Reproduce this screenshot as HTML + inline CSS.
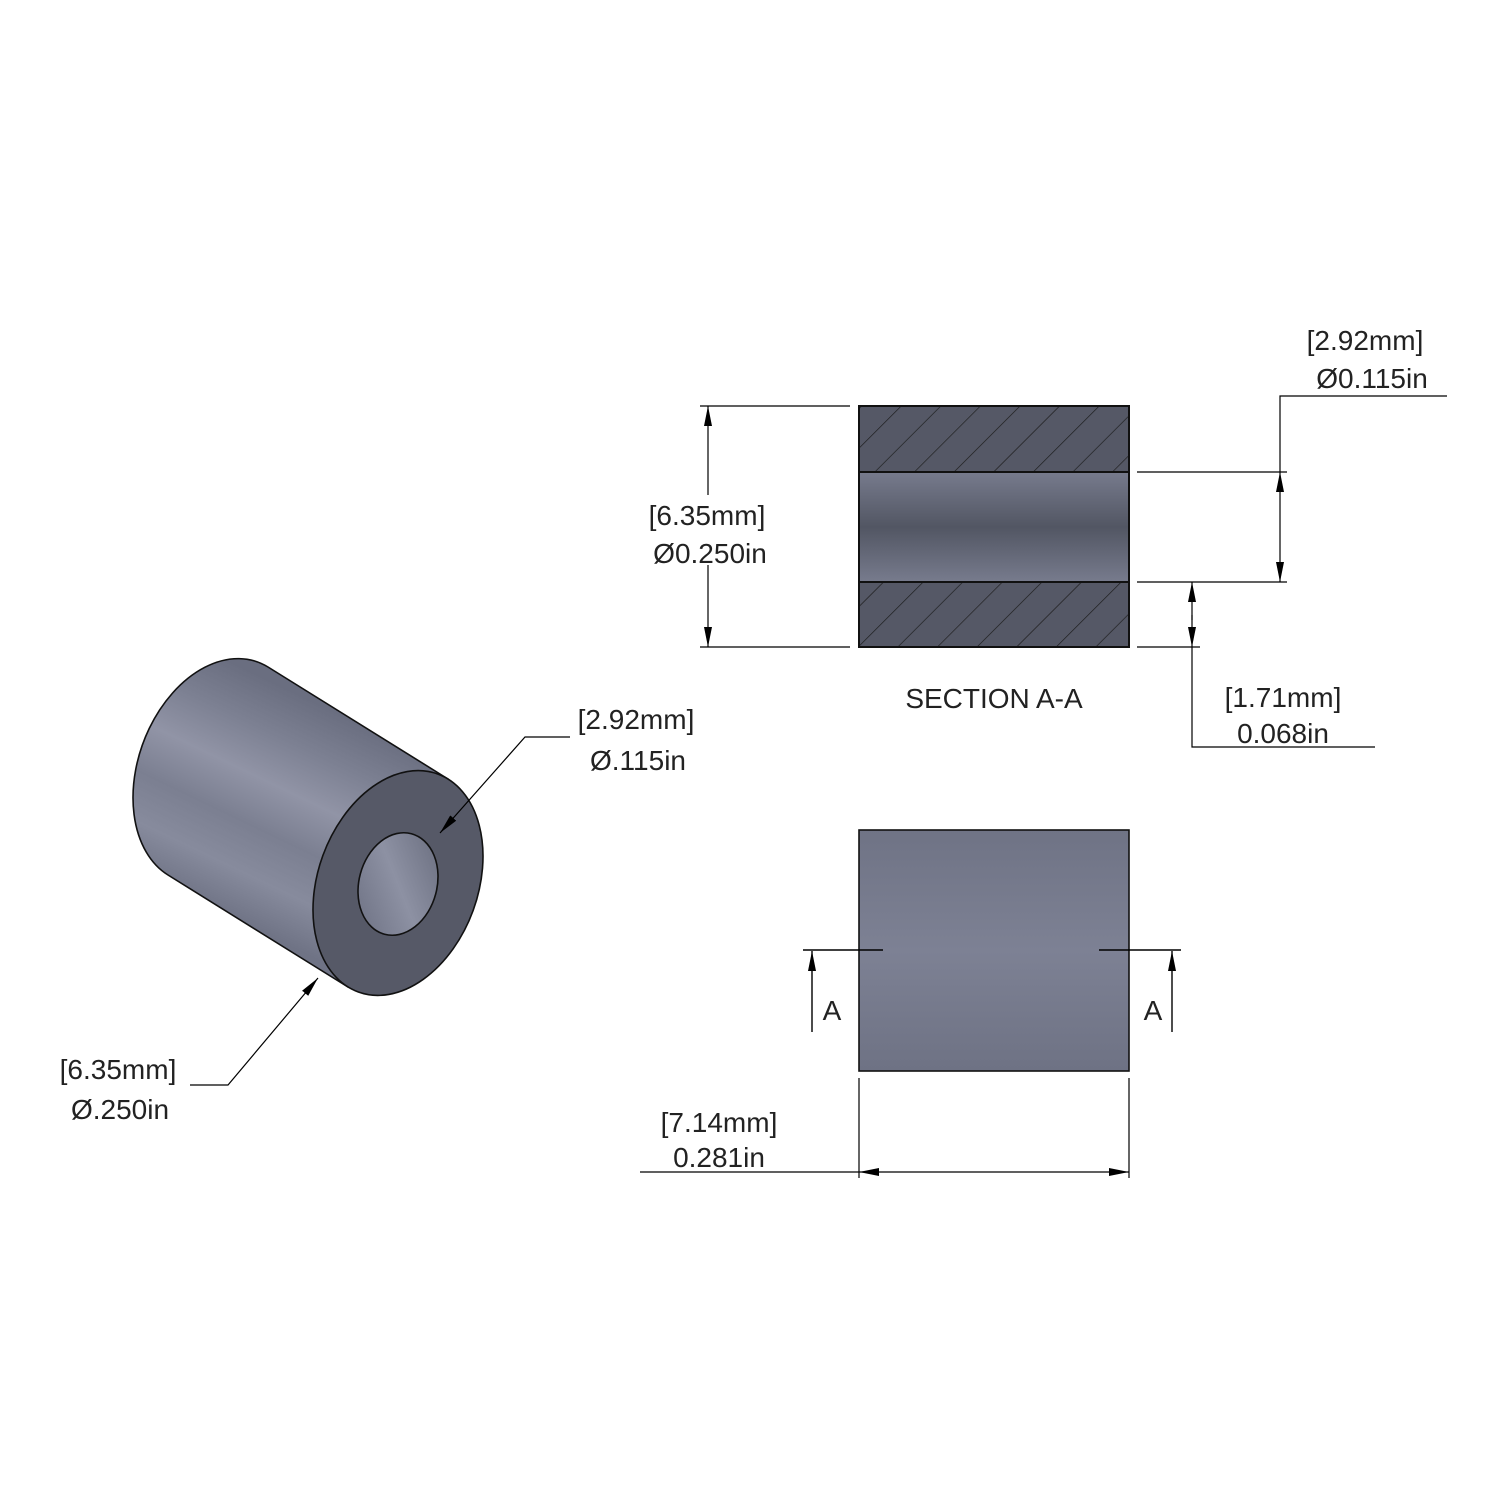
<!DOCTYPE html>
<html><head><style>
html,body{margin:0;padding:0;background:#fff}
svg{display:block}
text{font-family:"Liberation Sans",sans-serif;font-size:28px;fill:#222}
</style></head><body>
<svg width="1500" height="1500" viewBox="0 0 1500 1500">
<defs>
<linearGradient id="body" x1="258" y1="931" x2="358" y2="723" gradientUnits="userSpaceOnUse">
<stop offset="0" stop-color="#6f7385"/><stop offset="0.2" stop-color="#878b9d"/><stop offset="0.4" stop-color="#7b7f91"/><stop offset="0.6" stop-color="#9194a6"/><stop offset="0.8" stop-color="#7c8092"/><stop offset="1" stop-color="#6a6e80"/>
</linearGradient>
<linearGradient id="bore" x1="0" y1="0" x2="0" y2="1">
<stop offset="0" stop-color="#777b8d"/><stop offset="0.5" stop-color="#525663"/><stop offset="1" stop-color="#777b8d"/>
</linearGradient>
<linearGradient id="hole" x1="0" y1="1" x2="1" y2="0">
<stop offset="0" stop-color="#6a6e80"/><stop offset="0.5" stop-color="#8d91a3"/><stop offset="1" stop-color="#676b7c"/>
</linearGradient>
<linearGradient id="side" x1="0" y1="0" x2="0" y2="1">
<stop offset="0" stop-color="#6f7385"/><stop offset="0.5" stop-color="#7d8194"/><stop offset="1" stop-color="#6e7284"/>
</linearGradient>
<pattern id="hatch" patternUnits="userSpaceOnUse" width="28" height="28" patternTransform="rotate(45)">
<rect width="28" height="28" fill="#555866"/>
<line x1="0" y1="0" x2="0" y2="28" stroke="#1a1a1a" stroke-width="1.3"/>
</pattern>
<marker id="arl" viewBox="0 0 20 8" refX="20" refY="4" markerWidth="20" markerHeight="8" markerUnits="userSpaceOnUse" orient="auto"><path d="M0 0 L20 4 L0 8 Z" fill="#000"/></marker>
</defs>

<!-- ISO cylinder -->
<g stroke="#111" stroke-width="1.6">
<path d="M268 667 L448 779 L348 987 L168 875 A80 116 20 0 1 268 667 Z" fill="url(#body)"/>
<ellipse cx="398" cy="883" rx="80" ry="116" transform="rotate(20 398 883)" fill="#565967"/>
<ellipse cx="398" cy="884" rx="39" ry="52" transform="rotate(15 398 884)" fill="url(#hole)"/>
</g>
<g stroke="#000" stroke-width="1.2" fill="none">
<polyline points="570,737 525,737 440,833" marker-end="url(#arl)"/>
<polyline points="190,1085 228,1085 318,978" marker-end="url(#arl)"/>
</g>
<text x="636" y="729" text-anchor="middle">[2.92mm]</text>
<text x="638" y="770" text-anchor="middle">Ø.115in</text>
<text x="118" y="1079" text-anchor="middle">[6.35mm]</text>
<text x="120" y="1119" text-anchor="middle">Ø.250in</text>

<!-- Section -->
<rect x="859" y="406" width="270" height="66" fill="url(#hatch)" stroke="#111" stroke-width="2"/>
<rect x="859" y="582" width="270" height="65" fill="url(#hatch)" stroke="#111" stroke-width="2"/>
<rect x="859" y="472" width="270" height="110" fill="url(#bore)" stroke="#111" stroke-width="2"/>
<g stroke="#000" stroke-width="1.2" fill="none">
<line x1="700" y1="406" x2="850" y2="406"/>
<line x1="700" y1="647" x2="850" y2="647"/>
<line x1="708" y1="527" x2="708" y2="406" marker-end="url(#arl)"/>
<line x1="708" y1="527" x2="708" y2="647" marker-end="url(#arl)"/>
<line x1="1137" y1="472" x2="1287" y2="472"/>
<line x1="1137" y1="582" x2="1287" y2="582"/>
<line x1="1137" y1="647" x2="1200" y2="647"/>
<polyline points="1447,396 1280,396 1280,472"/>
<line x1="1280" y1="530" x2="1280" y2="472" marker-end="url(#arl)"/>
<line x1="1280" y1="530" x2="1280" y2="582" marker-end="url(#arl)"/>
<polyline points="1375,747 1192,747 1192,647"/>
<line x1="1192" y1="620" x2="1192" y2="582" marker-end="url(#arl)"/>
<line x1="1192" y1="615" x2="1192" y2="647" marker-end="url(#arl)"/>
</g>
<rect x="660" y="495" width="100" height="70" fill="#fff"/>
<text x="707" y="525" text-anchor="middle">[6.35mm]</text>
<text x="710" y="563" text-anchor="middle">Ø0.250in</text>
<text x="1365" y="350" text-anchor="middle">[2.92mm]</text>
<text x="1372" y="388" text-anchor="middle">Ø0.115in</text>
<text x="1283" y="707" text-anchor="middle">[1.71mm]</text>
<text x="1283" y="743" text-anchor="middle">0.068in</text>
<text x="994" y="708" text-anchor="middle">SECTION A-A</text>

<!-- Side view -->
<rect x="859" y="830" width="270" height="241" fill="url(#side)" stroke="#111" stroke-width="1.6"/>
<g stroke="#000" stroke-width="1.4" fill="none">
<line x1="803" y1="950" x2="883" y2="950"/>
<line x1="1099" y1="950" x2="1181" y2="950"/>
<line x1="812" y1="1032" x2="812" y2="951" marker-end="url(#arl)"/>
<line x1="1172" y1="1032" x2="1172" y2="951" marker-end="url(#arl)"/>
</g>
<text x="832" y="1020" text-anchor="middle">A</text>
<text x="1153" y="1020" text-anchor="middle">A</text>
<g stroke="#000" stroke-width="1.2" fill="none">
<line x1="859" y1="1078" x2="859" y2="1178"/>
<line x1="1129" y1="1078" x2="1129" y2="1178"/>
<line x1="640" y1="1172" x2="859" y2="1172"/>
<line x1="994" y1="1172" x2="859" y2="1172" marker-end="url(#arl)"/>
<line x1="994" y1="1172" x2="1129" y2="1172" marker-end="url(#arl)"/>
</g>
<text x="719" y="1132" text-anchor="middle">[7.14mm]</text>
<text x="719" y="1167" text-anchor="middle">0.281in</text>
</svg>
</body></html>
